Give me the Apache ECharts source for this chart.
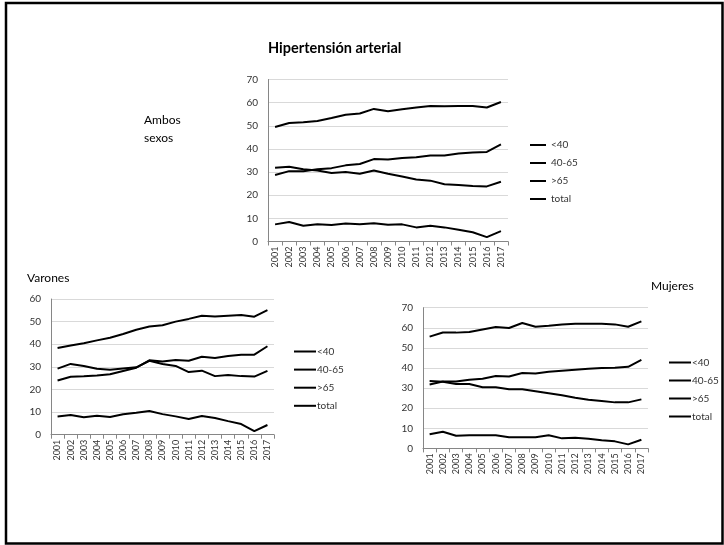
<!DOCTYPE html>
<html><head><meta charset="utf-8">
<script src="https://cdn.jsdelivr.net/npm/echarts@6/dist/echarts.min.js"></script>
<style>html,body{margin:0;padding:0;background:#fff}#c{width:724px;height:545px}</style>
</head><body><div id="c"></div>
<script>
const years = ['2001','2002','2003','2004','2005','2006','2007','2008','2009','2010','2011','2012','2013','2014','2015','2016','2017'];
const seriesNames = ['<40','40-65','>65','total'];

// Ambos sexos
const ambos_lt40 = [7.4,8.4,6.8,7.5,7.1,7.8,7.5,7.9,7.2,7.4,6.1,6.8,6.1,5.1,4.0,1.9,4.5];
const ambos_40_65 = [31.9,32.3,31.2,30.7,29.6,30.0,29.3,30.7,29.3,28.1,26.8,26.3,24.7,24.4,24.0,23.8,25.8];
const ambos_gt65 = [49.5,51.2,51.5,52.1,53.4,54.8,55.3,57.3,56.3,57.1,57.9,58.6,58.4,58.6,58.6,57.9,60.3];
const ambos_total = [28.7,30.4,30.4,31.2,31.7,32.9,33.5,35.6,35.4,36.1,36.4,37.2,37.2,38.0,38.5,38.7,42.0];

// Varones
const var_lt40 = [8.1,8.7,7.7,8.4,7.8,9.0,9.7,10.5,9.1,8.1,6.9,8.3,7.4,6.0,4.7,1.6,4.3];
const var_40_65 = [29.2,31.3,30.4,29.2,28.7,29.3,29.8,32.7,31.3,30.4,27.7,28.3,25.9,26.4,25.9,25.7,28.2];
const var_gt65 = [38.3,39.4,40.4,41.7,42.9,44.5,46.4,47.8,48.4,50.0,51.2,52.6,52.3,52.6,52.9,52.2,55.1];
const var_total = [24.0,25.6,25.8,26.2,26.7,28.2,29.6,32.9,32.4,33.0,32.7,34.5,33.9,34.8,35.4,35.4,39.1];

// Mujeres
const muj_lt40 = [7.0,8.3,6.3,6.6,6.5,6.5,5.6,5.6,5.5,6.5,5.0,5.3,4.8,4.1,3.5,2.0,4.3];
const muj_40_65 = [33.5,33.2,32.0,32.0,30.4,30.4,29.4,29.4,28.4,27.4,26.4,25.2,24.2,23.6,22.9,22.9,24.4];
const muj_gt65 = [55.6,57.7,57.6,57.9,59.2,60.4,59.9,62.4,60.5,61.0,61.7,62.0,62.0,62.0,61.7,60.5,63.2];
const muj_total = [31.8,33.3,33.3,34.2,34.7,36.0,35.8,37.5,37.3,38.1,38.6,39.1,39.6,40.0,40.1,40.6,44.0];

const FONT = 'Lato';
const grids = [
  {left:268, top:79.5, width:240, height:162},
  {left:51, top:299, width:223, height:135.7},
  {left:423, top:307.7, width:225, height:140.7}
];
const ymax = [70, 60, 70];
const data = [
  [ambos_lt40, ambos_40_65, ambos_gt65, ambos_total],
  [var_lt40, var_40_65, var_gt65, var_total],
  [muj_lt40, muj_40_65, muj_gt65, muj_total]
];

const xAxis = grids.map((g,i)=>({
  type:'category', gridIndex:i, data:years, boundaryGap:true,
  axisLine:{lineStyle:{color:'#868686',width:1}},
  axisTick:{show:true,length:4,lineStyle:{color:'#868686'}},
  axisLabel:{rotate:90,fontFamily:FONT,fontSize:9,color:'#333',margin:5,interval:0},
  splitLine:{show:false}
}));
const yAxis = grids.map((g,i)=>({
  type:'value', gridIndex:i, min:0, max:ymax[i], interval:10,
  axisLine:{show:true,lineStyle:{color:'#868686',width:1}},
  axisTick:{show:false},
  axisLabel:{fontFamily:FONT,fontSize:10,color:'#333',margin:10},
  splitLine:{lineStyle:{color:'#d9d9d9',width:1}}
}));
const series = [];
data.forEach((d,gi)=>{
  d.forEach((vals,si)=>{
    series.push({
      type:'line', name:seriesNames[si], xAxisIndex:gi, yAxisIndex:gi,
      data:vals, symbol:'none', smooth:false,
      lineStyle:{color:'#000',width:2}, itemStyle:{color:'#000'}
    });
  });
});
const legendBase = {
  data:seriesNames, orient:'vertical', itemHeight:10, selectedMode:false,
  itemStyle:{opacity:0},
  lineStyle:{color:'#000',width:2},
  textStyle:{fontFamily:FONT,fontSize:10,color:'#333'}
};
const legends = [
  Object.assign({}, legendBase, {left:524, top:135, itemWidth:16, itemGap:8}),
  Object.assign({}, legendBase, {left:288, top:341.5, itemWidth:22, itemGap:8.1, textStyle:{fontFamily:FONT,fontSize:10,color:'#333',padding:[0,0,0,-4]}}),
  Object.assign({}, legendBase, {left:663, top:352.5, itemWidth:22, itemGap:8.0, textStyle:{fontFamily:FONT,fontSize:10,color:'#333',padding:[0,0,0,-4]}})
];

const option = {
  animation:false,
  backgroundColor:'#fff',
  title:[
    {text:'Hipertensión arterial', left:263, top:36, textStyle:{fontFamily:FONT,fontSize:14.5,fontWeight:'bold',color:'#000'}},
    {text:'Ambos\nsexos', left:139, top:106, textStyle:{fontFamily:FONT,fontSize:12,fontWeight:'normal',color:'#000',lineHeight:18}},
    {text:'Varones', left:22, top:267, textStyle:{fontFamily:FONT,fontSize:12,fontWeight:'normal',color:'#000'}},
    {text:'Mujeres', left:646, top:275, textStyle:{fontFamily:FONT,fontSize:12,fontWeight:'normal',color:'#000'}}
  ],
  graphic:[{type:'rect', shape:{x:6,y:3,width:716.5,height:540.5}, style:{fill:'none',stroke:'#000',lineWidth:2.5}, silent:true}],
  legend:legends,
  grid:grids,
  xAxis:xAxis,
  yAxis:yAxis,
  series:series
};
const chart = echarts.init(document.getElementById('c'), null, {renderer:'canvas'});
chart.setOption(option);
</script></body></html>
